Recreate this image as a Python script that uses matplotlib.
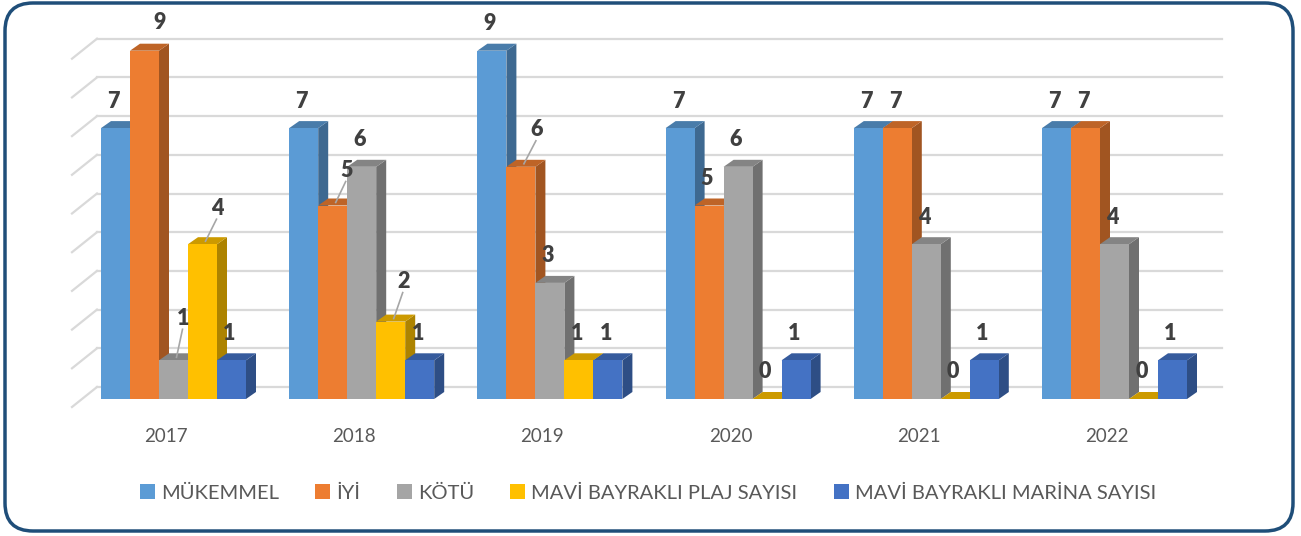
import matplotlib.pyplot as plt
from matplotlib.patches import Polygon, Rectangle, Patch, FancyBboxPatch

plt.rcParams['font.family'] = ['Lato', 'DejaVu Sans']

years = ['2017', '2018', '2019', '2020', '2021', '2022']
series = ['MÜKEMMEL', 'İYİ', 'KÖTÜ', 'MAVİ BAYRAKLI PLAJ SAYISI', 'MAVİ BAYRAKLI MARİNA SAYISI']
mukemmel = [7, 7, 9, 7, 7, 7]
iyi = [9, 5, 6, 5, 7, 7]
kotu = [1, 6, 3, 6, 4, 4]
plaj = [4, 2, 1, 0, 0, 0]
marina = [1, 1, 1, 1, 1, 1]
values = [mukemmel, iyi, kotu, plaj, marina]

colors = ['#5B9BD5', '#ED7D31', '#A5A5A5', '#FFC000', '#4472C4']

# label tweaks (px offsets, leader line) for labels Excel moved
label_tweak = {
    (0, 1): (15, 28, False),
    (0, 2): (10, 42, True),
    (0, 3): (15, 36, True),
    (1, 1): (14, 35, True),
    (1, 3): (13, 40, True),
    (2, 1): (16, 37, True),
}

PX = 188.2  # px per category
PY = 38.7   # px per unit
W = 29 / PX
DDX, DDY = 10 / PX, 7 / PY


def darker(c, f):
    r, g, b = [int(c[i:i + 2], 16) / 255 for i in (1, 3, 5)]
    return (r * f, g * f, b * f)


fig = plt.figure(figsize=(13.01, 5.36), dpi=100)
ax = fig.add_axes([0, 0, 1, 1])
ax.set_xlim(-173.5 / PX, (1301 - 173.5) / PX)
ax.set_ylim(-137 / PY, (536 - 137) / PY)
ax.axis('off')

# gridlines on the back wall plus the floor diagonals
for v in range(10):
    yb = v + 12 / PY
    ax.plot([(97 - 173.5) / PX, (1222 - 173.5) / PX], [yb, yb], color='#D9D9D9', lw=1.6, zorder=1)
    ax.plot([(72 - 173.5) / PX, (97 - 173.5) / PX], [yb - 20 / PY, yb], color='#D9D9D9', lw=1.6, zorder=1)

for i in range(len(years)):
    for k in range(len(series)):
        h = values[k][i]
        x0 = i - 2.5 * W + k * W
        c = colors[k]
        side = Polygon([(x0 + W, 0), (x0 + W + DDX, DDY), (x0 + W + DDX, h + DDY), (x0 + W, h)],
                       closed=True, fc=darker(c, 0.68), ec='none', zorder=3)
        top = Polygon([(x0, h), (x0 + DDX, h + DDY), (x0 + W + DDX, h + DDY), (x0 + W, h)],
                      closed=True, fc=darker(c, 0.8), ec='none', zorder=3)
        ax.add_patch(side)
        ax.add_patch(top)
        if h > 0:
            ax.add_patch(Rectangle((x0, 0), W, h, fc=c, ec='none', zorder=3))

        dx, dy, leader = label_tweak.get((i, k), (-2, 27, False))
        lx = x0 + W / 2 + dx / PX
        ly = h + dy / PY
        ax.text(lx, ly, str(h), ha='center', va='center', fontsize=15.5, fontweight='heavy',
                color='#404040', zorder=5)
        if leader:
            ax.plot([lx - 1 / PX, x0 + W / 2 + 3 / PX], [ly - 11 / PY, h + 3 / PY],
                    color='#A6A6A6', lw=1.2, zorder=4)

for i, yr in enumerate(years):
    ax.text(i - 0.04, -37 / PY, yr, ha='center', va='center', fontsize=13.5, color='#595959')

handles = [Patch(facecolor=c, edgecolor='none') for c in colors]
leg = fig.legend(handles, series, loc='center', bbox_to_anchor=(0.498, 0.08), ncol=5, frameon=False,
                 handlelength=0.75, handleheight=0.75, handletextpad=0.3, columnspacing=1.8,
                 fontsize=14.5)
for t in leg.get_texts():
    t.set_color('#595959')

border = FancyBboxPatch((0.05, 0.05), 12.88, 5.28, boxstyle='round,pad=0,rounding_size=0.28',
                        transform=fig.dpi_scale_trans, fc='none', ec='#1F4E79', lw=2.5)
fig.patches.append(border)

fig.savefig('out.png', dpi=100)
